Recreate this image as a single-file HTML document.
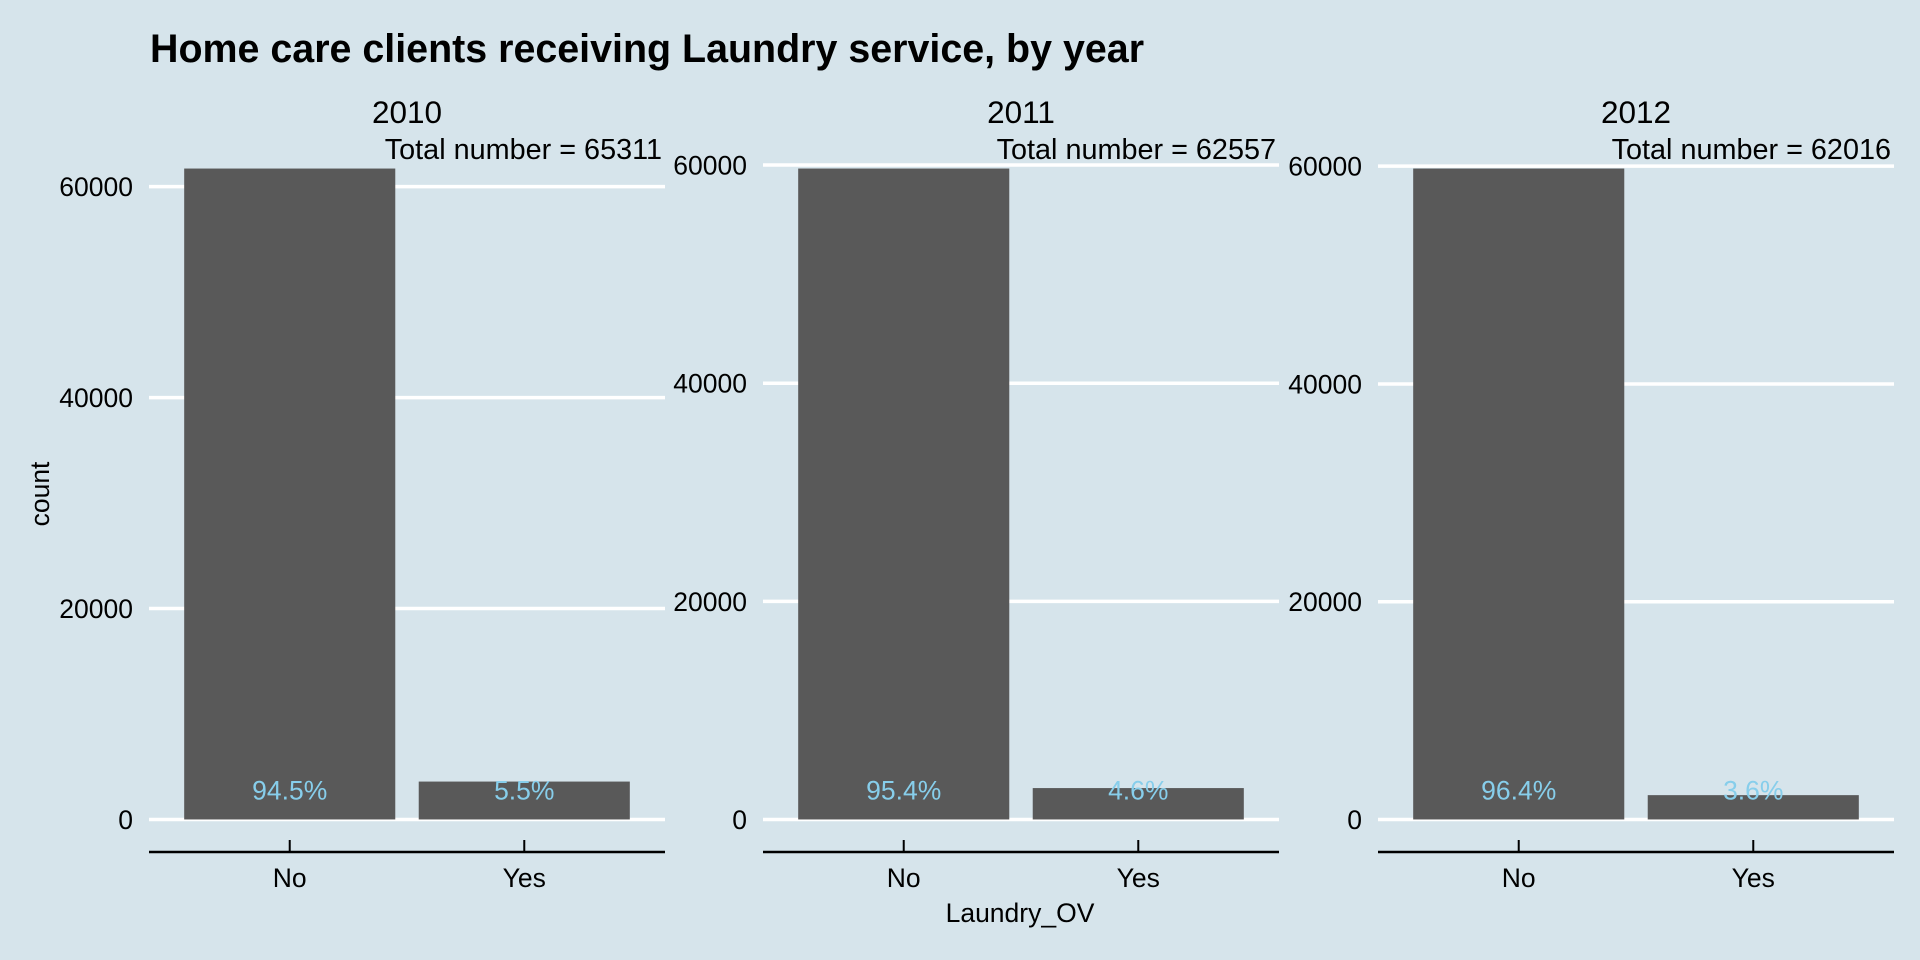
<!DOCTYPE html>
<html><head><meta charset="utf-8"><style>
html,body{margin:0;padding:0;background:#d6e4eb;}
svg{display:block;font-family:"Liberation Sans",Arial,sans-serif;}
</style></head><body>
<svg id="chart" width="1920" height="960" viewBox="0 0 1920 960" xmlns="http://www.w3.org/2000/svg">
<rect x="0" y="0" width="1920" height="960" fill="#d6e4eb"/>
<text x="150" y="62" font-size="39.4" font-weight="bold" fill="#000">Home care clients receiving Laundry service, by year</text>
<text transform="translate(49,494) rotate(-90)" text-anchor="middle" font-size="26.5" fill="#000">count</text>
<text x="1020" y="922" text-anchor="middle" font-size="26.5" fill="#000">Laundry_OV</text>
<g id="panels"></g>
</svg>
<script>
const years = ["2010", "2011", "2012"];
const categories = ["No", "Yes"];
const noCounts = [61719, 59680, 59783];
const yesCounts = [3592, 2877, 2233];
const totals = [65311, 62557, 62016];
const noPctLabels = ["94.5%", "95.4%", "96.4%"];
const yesPctLabels = ["5.5%", "4.6%", "3.6%"];
const yTicks = [0, 20000, 40000, 60000];

const NS = "http://www.w3.org/2000/svg";
const g = document.getElementById("panels");
const panelLefts = [149, 763, 1378];
const panelW = 516, plotTop = 136, plotBottom = 852;
function mk(tag, attrs, parent) {
  const e = document.createElementNS(NS, tag);
  for (const k in attrs) e.setAttribute(k, attrs[k]);
  (parent || g).appendChild(e);
  return e;
}
years.forEach((yr, p) => {
  const left = panelLefts[p];
  const vals = [noCounts[p], yesCounts[p]];
  const pcts = [noPctLabels[p], yesPctLabels[p]];
  const maxV = Math.max(...vals);
  const lo = -0.05 * maxV, hi = 1.05 * maxV;
  const y = v => plotBottom - (v - lo) / (hi - lo) * (plotBottom - plotTop);
  const unit = panelW / (categories.length + 0.2);
  const x = i => left + unit * 0.6 + i * unit;
  const pg = mk("g", {});
  
  
  yTicks.forEach(t => {
    if (t > hi) return;
    const l = mk("line", {x1: left, x2: left + panelW, y1: y(t), y2: y(t), stroke: "#fff", "stroke-width": 3.5}, pg);
    
    
    const tl = mk("text", {x: left - 16, y: y(t) + 9.5, "text-anchor": "end", "font-size": 26.5, fill: "#000"}, pg);
    
    
    tl.textContent = t;
  });
  vals.forEach((v, i) => {
    const b = mk("rect", {x: x(i) - unit * 0.45, width: unit * 0.9, y: y(v), height: y(0) - y(v), fill: "#595959"}, pg);
    
    
    const pl = mk("text", {x: x(i), y: y(0) - 20, "text-anchor": "middle", "font-size": 26.5, fill: "#87ceeb"}, pg);
    
    
    pl.textContent = pcts[i];
    const tk = mk("line", {x1: x(i), x2: x(i), y1: plotBottom - 12, y2: plotBottom, stroke: "#000", "stroke-width": 2}, pg);
    
    
    const xl = mk("text", {x: x(i), y: 887, "text-anchor": "middle", "font-size": 26.5, fill: "#000"}, pg);
    
    
    xl.textContent = categories[i];
  });
  const ax = mk("line", {x1: left, x2: left + panelW, y1: plotBottom, y2: plotBottom, stroke: "#000", "stroke-width": 2.5}, pg);
  
  
  const st = mk("text", {x: left + panelW / 2, y: 123, "text-anchor": "middle", "font-size": 31.5, fill: "#000"}, pg);
  
  
  st.textContent = yr;
  const tt = mk("text", {x: left + panelW - 3, y: 159, "text-anchor": "end", "font-size": 28.8, fill: "#000"}, pg);
  
  
  tt.textContent = "Total number = " + totals[p];
});
</script>
</body></html>
